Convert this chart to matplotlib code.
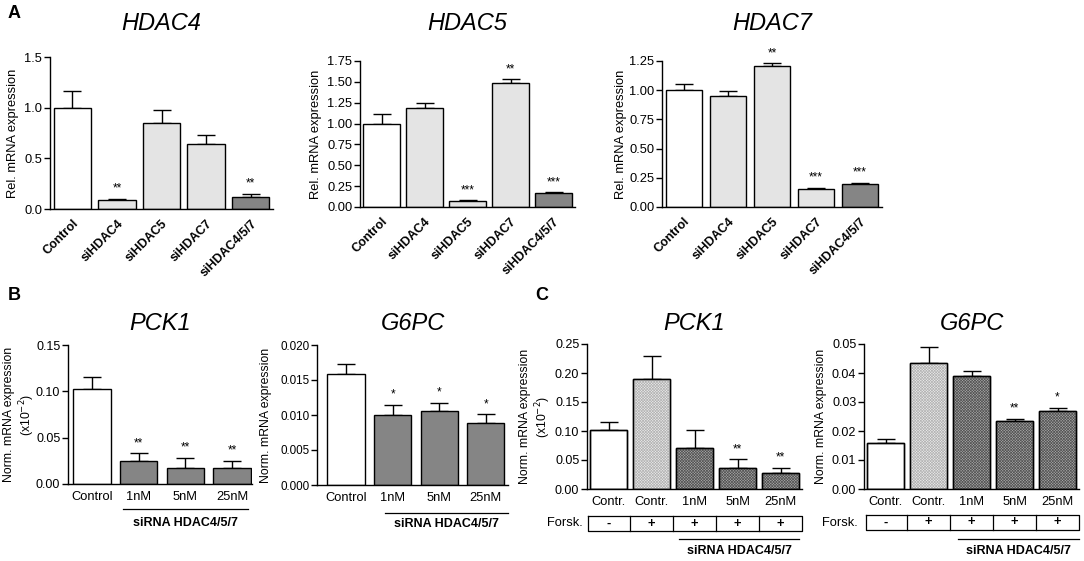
import matplotlib
matplotlib.use("Agg")
import matplotlib.pyplot as plt
from matplotlib.ticker import FormatStrFormatter
import numpy as np

plt.rcParams['font.family'] = ['Liberation Sans', 'DejaVu Sans']
plt.rcParams['hatch.linewidth'] = 0.5

# ---------------- data ----------------
a_cats = ["Control", "siHDAC4", "siHDAC5", "siHDAC7", "siHDAC4/5/7"]
a_colors = ["white", "#e4e4e4", "#e4e4e4", "#e4e4e4", "#858585"]

hdac4_vals = [1.00, 0.09, 0.85, 0.64, 0.12]
hdac4_err = [0.16, 0.01, 0.13, 0.09, 0.03]
hdac4_sig = ["", "**", "", "", "**"]

hdac5_vals = [1.00, 1.19, 0.07, 1.49, 0.17]
hdac5_err = [0.11, 0.06, 0.01, 0.04, 0.005]
hdac5_sig = ["", "", "***", "**", "***"]

hdac7_vals = [1.00, 0.95, 1.21, 0.15, 0.20]
hdac7_err = [0.05, 0.04, 0.02, 0.015, 0.005]
hdac7_sig = ["", "", "**", "***", "***"]

b_cats = ["Control", "1nM", "5nM", "25nM"]
b_colors = ["white", "#858585", "#858585", "#858585"]
b_pck1_vals = [0.102, 0.025, 0.017, 0.017]
b_pck1_err = [0.014, 0.008, 0.011, 0.008]
b_pck1_sig = ["", "**", "**", "**"]
b_g6pc_vals = [0.0158, 0.0100, 0.0106, 0.0089]
b_g6pc_err = [0.0015, 0.0015, 0.0011, 0.0012]
b_g6pc_sig = ["", "*", "*", "*"]

c_cats = ["Contr.", "Contr.", "1nM", "5nM", "25nM"]
c_forsk = ["-", "+", "+", "+", "+"]
c_pck1_vals = [0.102, 0.189, 0.070, 0.037, 0.028]
c_pck1_err = [0.014, 0.040, 0.031, 0.014, 0.009]
c_pck1_sig = ["", "", "", "**", "**"]
c_g6pc_vals = [0.0158, 0.0435, 0.0388, 0.0235, 0.0268]
c_g6pc_err = [0.0015, 0.0053, 0.0020, 0.0008, 0.0013]
c_g6pc_sig = ["", "", "", "**", "*"]
c_styles = ["white", "light", "dark", "dark", "dark"]

W, H = 1084, 561
fig = plt.figure(figsize=(W / 100, H / 100), dpi=100)


def ax_at(l, r, t, b):
    return fig.add_axes([l / W, 1 - b / H, (r - l) / W, (b - t) / H])


def style_axes(ax, ymax, step, fmt, tsize=9):
    for s in ["top", "right"]:
        ax.spines[s].set_visible(False)
    ax.spines["left"].set_linewidth(1.0)
    ax.spines["bottom"].set_linewidth(1.0)
    ax.set_ylim(0, ymax)
    ax.set_yticks(np.arange(0, ymax + step / 2, step))
    ax.yaxis.set_major_formatter(FormatStrFormatter(fmt))
    ax.tick_params(axis="y", direction="out", length=4, width=1.0,
                   labelsize=tsize, pad=1.5)
    ax.tick_params(axis="x", length=0, pad=3)


def draw_bars(ax, vals, errs, colors, sigs, width=0.84, styles=None,
              xlim=None):
    x = np.arange(len(vals))
    ax.bar(x, vals, width=width, color=colors, edgecolor="black",
           linewidth=1.0, zorder=2)
    if styles is not None:
        for i, st in enumerate(styles):
            if st == "light":
                ax.bar(x[i], vals[i], width=width, color="none",
                       edgecolor="#b4b4b4", hatch="x" * 12,
                       linewidth=0, zorder=2.5)
            elif st == "dark":
                ax.bar(x[i], vals[i], width=width, color="none",
                       edgecolor="#555555", hatch="x" * 12,
                       linewidth=0, zorder=2.5)
        ax.bar(x, vals, width=width, color="none", edgecolor="black",
               linewidth=1.0, zorder=2.6)
    ax.errorbar(x, vals, yerr=[np.zeros(len(vals)), errs], fmt="none",
                ecolor="black", elinewidth=1.0, capsize=6.5, capthick=1.0,
                zorder=1)
    for i, s in enumerate(sigs):
        if s:
            ax.annotate(s, (x[i], vals[i] + errs[i]), xytext=(0, 3),
                        textcoords="offset points", ha="center",
                        va="bottom", fontsize=8.5)
    if xlim is None:
        xlim = (-0.5, len(vals) - 0.5)
    ax.set_xlim(*xlim)
    ax.set_xticks(x)


def place_ylabel(ax, l, r, right_px):
    # ylabel's anchor is its right edge (bottom of rotated text)
    ax.yaxis.set_label_coords((right_px - l) / (r - l), 0.5)


# ---------------- Panel A ----------------
a_specs = [
    ((50, 273, 57, 209), "HDAC4", hdac4_vals, hdac4_err, hdac4_sig, 1.5, 0.5, "%.1f", 19),
    ((360, 575, 61, 207), "HDAC5", hdac5_vals, hdac5_err, hdac5_sig, 1.75, 0.25, "%.2f", 322),
    ((662, 882, 61, 207), "HDAC7", hdac7_vals, hdac7_err, hdac7_sig, 1.25, 0.25, "%.2f", 627),
]
for (l, r, t, b), title, v, e, s, ymax, step, fmt, lx in a_specs:
    ax = ax_at(l, r, t, b)
    draw_bars(ax, v, e, a_colors, s)
    style_axes(ax, ymax, step, fmt, tsize=9.3)
    ax.set_xticklabels(a_cats, rotation=45, ha="right",
                       rotation_mode="anchor", fontsize=9,
                       fontweight="bold")
    ax.tick_params(axis="x", pad=6)
    ax.set_ylabel("Rel. mRNA expression", fontsize=9.3)
    place_ylabel(ax, l, r, lx)
    fig.text(((l + r) / 2) / W, 1 - 24 / H, title, fontsize=17,
             style="italic", ha="center", va="center")

# ---------------- Panel B ----------------
b_specs = [
    ((68, 252, 345, 484), (-0.516, 3.43), "PCK1", b_pck1_vals, b_pck1_err, b_pck1_sig,
     0.15, 0.05, "%.2f", 9.0, "Norm. mRNA expression\n(x10$^{-2}$)", 37,
     (123, 248), 509, 523),
    ((317, 508, 345, 485), (-0.624, 3.48), "G6PC", b_g6pc_vals, b_g6pc_err, b_g6pc_sig,
     0.020, 0.005, "%.3f", 8.4, "Norm. mRNA expression", 272,
     (385, 508), 513, 524),
]
for ((l, r, t, b), xl, title, v, e, s, ymax, step, fmt, tsz, ylab, lx,
     (px0, px1), ly, ty) in b_specs:
    ax = ax_at(l, r, t, b)
    draw_bars(ax, v, e, b_colors, s, width=0.80, xlim=xl)
    style_axes(ax, ymax, step, fmt, tsize=tsz)
    ax.set_xticklabels(b_cats, fontsize=9.3)
    ax.tick_params(axis="x", pad=5)
    ax.set_ylabel(ylab, fontsize=8.8, linespacing=1.2)
    place_ylabel(ax, l, r, lx)
    hb = b - t
    span = xl[1] - xl[0]
    x0 = xl[0] + (px0 - l) / (r - l) * span
    x1 = xl[0] + (px1 - l) / (r - l) * span
    ax.plot([x0, x1], [(b - ly) / hb * ymax] * 2, color="black", lw=0.9,
            clip_on=False)
    ax.text((x0 + x1) / 2, (b - ty) / hb * ymax, "siRNA HDAC4/5/7",
            fontsize=9, fontweight="bold", ha="center", va="center",
            clip_on=False)
    fig.text(((l + r) / 2) / W, 1 - 323 / H, title, fontsize=17,
             style="italic", ha="center", va="center")

# ---------------- Panel C ----------------
c_colors = ["white", "#ececec", "#a9a9a9", "#a9a9a9", "#a9a9a9"]
c_specs = [
    ((587, 802, 344, 489), "PCK1", c_pck1_vals, c_pck1_err, c_pck1_sig, 0.25, 0.05, "%.2f",
     "Norm. mRNA expression\n(x10$^{-2}$)", 553, 588, (516, 531), (679, 799), 583),
    ((864, 1079, 344, 489), "G6PC", c_g6pc_vals, c_g6pc_err, c_g6pc_sig, 0.05, 0.01, "%.2f",
     "Norm. mRNA expression", 827, 866, (515, 530), (958, 1079), 858),
]
for ((l, r, t, b), title, v, e, s, ymax, step, fmt, ylab, lx, boxl,
     (bt, bb), (px0, px1), fx) in c_specs:
    ax = ax_at(l, r, t, b)
    draw_bars(ax, v, e, c_colors, s, styles=c_styles)
    style_axes(ax, ymax, step, fmt)
    ax.set_xticklabels(c_cats, fontsize=9.3)
    ax.tick_params(axis="x", pad=5)
    ax.set_ylabel(ylab, fontsize=8.8, linespacing=1.2)
    place_ylabel(ax, l, r, lx)
    hb = b - t
    n = len(v)
    pitch = (r - l) / n

    def dx(px):
        return -0.5 + (px - l) / pitch

    bx0 = dx(boxl)
    bx1 = n - 0.5
    ytop = (b - bt) / hb * ymax
    ybot = (b - bb) / hb * ymax
    ax.plot([bx0, bx1, bx1, bx0, bx0], [ytop, ytop, ybot, ybot, ytop],
            color="black", lw=0.9, clip_on=False)
    for i in range(n):
        if i > 0:
            ax.plot([i - 0.5, i - 0.5], [ytop, ybot], color="black", lw=0.9,
                    clip_on=False)
        ax.text(i, (ytop + ybot) / 2, c_forsk[i], fontsize=9.3,
                fontweight="bold", ha="center", va="center", clip_on=False)
    ax.text(dx(fx), (ytop + ybot) / 2, "Forsk.", fontsize=9.3,
            ha="right", va="center", clip_on=False)
    yl = (b - 539) / hb * ymax
    x0, x1 = dx(px0), dx(px1)
    ax.plot([x0, x1], [yl, yl], color="black", lw=0.9, clip_on=False)
    ax.text((x0 + x1) / 2, (b - 551) / hb * ymax, "siRNA HDAC4/5/7",
            fontsize=9, fontweight="bold", ha="center", va="center",
            clip_on=False)
    fig.text(((l + r) / 2) / W, 1 - 323 / H, title, fontsize=17,
             style="italic", ha="center", va="center")

# panel letters
fig.text(8 / W, 1 - 14 / H, "A", fontsize=13, fontweight="bold", va="center")
fig.text(8 / W, 1 - 296 / H, "B", fontsize=13, fontweight="bold", va="center")
fig.text(535 / W, 1 - 296 / H, "C", fontsize=13, fontweight="bold", va="center")

fig.savefig("out.png", dpi=100)
